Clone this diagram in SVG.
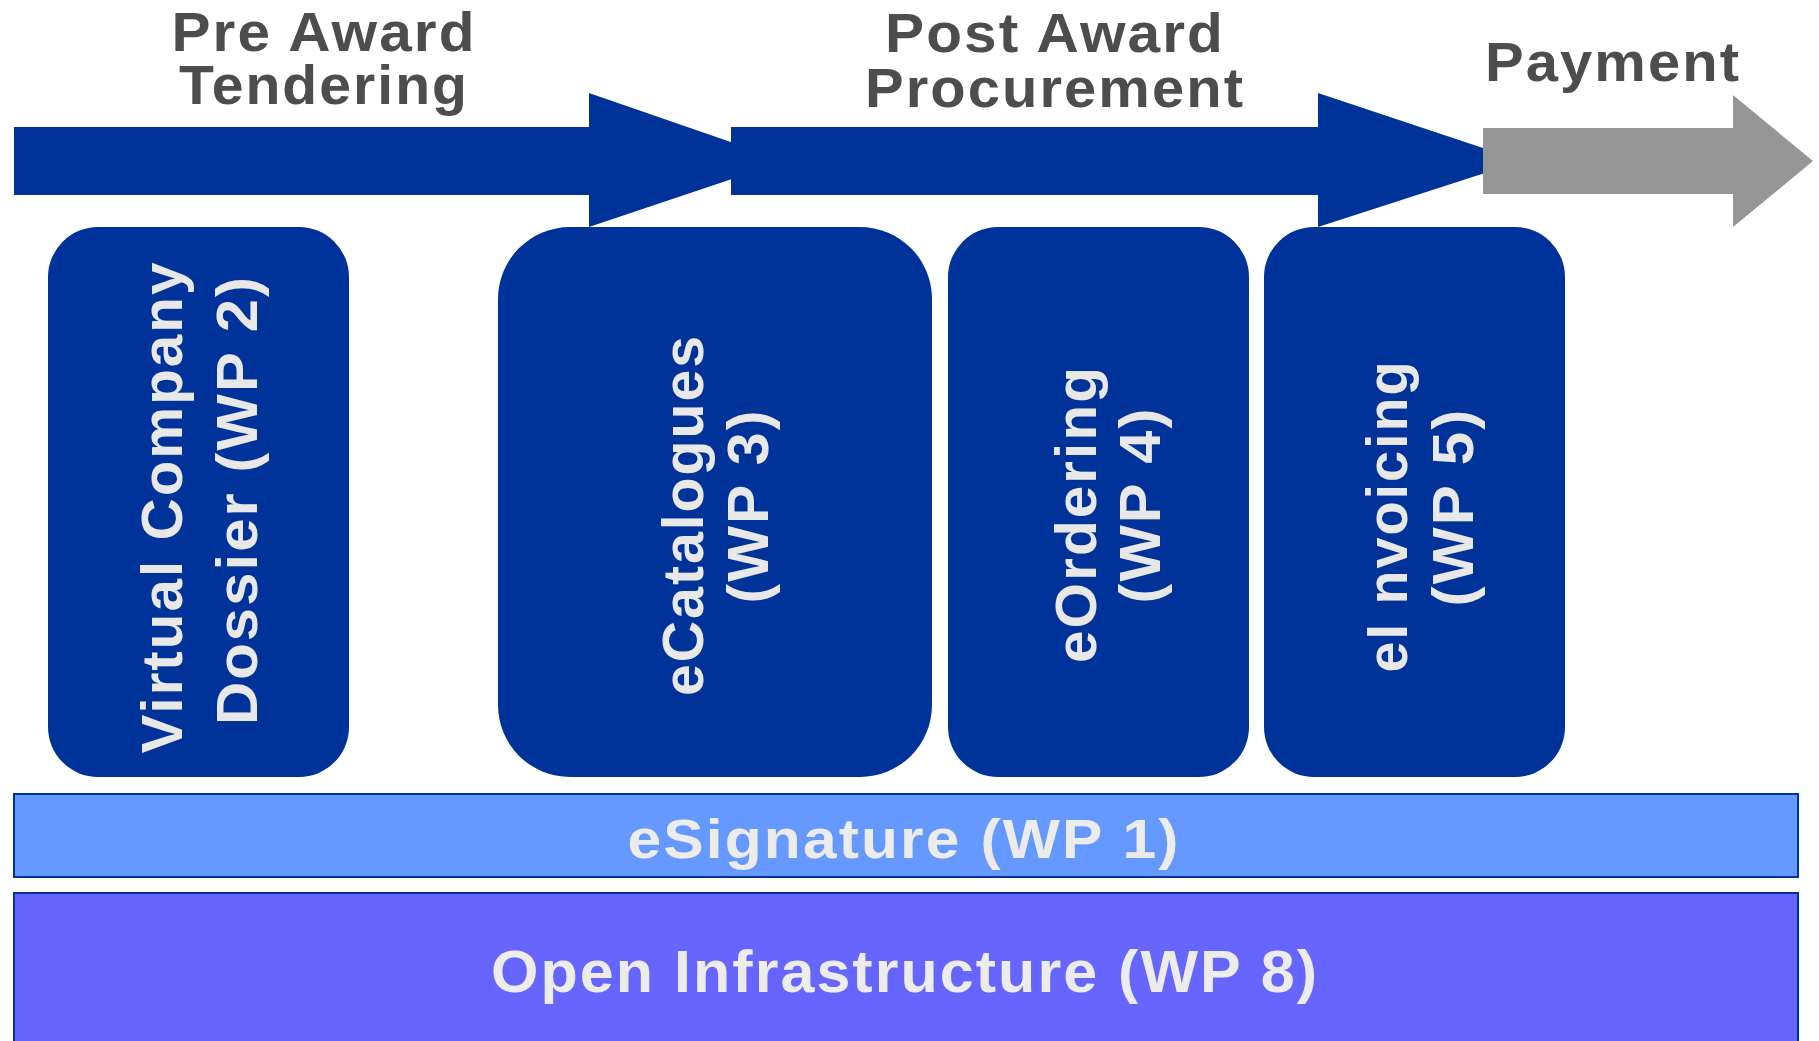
<svg xmlns="http://www.w3.org/2000/svg" width="1819" height="1041" viewBox="0 0 1819 1041">
<style>
.title{font-family:"Liberation Sans",Arial,sans-serif;font-weight:bold;font-size:56px;fill:#4d4d4d;text-anchor:middle;letter-spacing:2px}
.box{fill:#003399}
.btxt{font-family:"Liberation Sans",Arial,sans-serif;font-weight:bold;font-size:57px;fill:#e8e8e8;text-anchor:middle;letter-spacing:2px}
.bar{stroke:#003399;stroke-width:2}
.bartxt{font-family:"Liberation Sans",Arial,sans-serif;font-weight:bold;fill:#ececec;text-anchor:middle;letter-spacing:2px}
</style>
<rect width="1819" height="1041" fill="#ffffff"/>
<g id="connectors">
<polygon fill="#003399" points="14,127 589,127 589,93 786,161 589,227 589,195 14,195"/>
<polygon fill="#003399" points="731,127 1318,127 1318,93 1522,161 1318,227 1318,195 731,195"/>
<polygon fill="#969696" points="1483,128 1733,128 1733,95 1813,161 1733,227 1733,194 1483,194"/>
</g>
<g id="phase-pre">
<text class="title" x="324" y="51" textLength="305" lengthAdjust="spacingAndGlyphs">Pre Award</text>
<text class="title" x="324" y="104" textLength="290" lengthAdjust="spacingAndGlyphs">Tendering</text>
</g>
<g id="phase-post">
<text class="title" x="1055" y="52" textLength="340" lengthAdjust="spacingAndGlyphs">Post Award</text>
<text class="title" x="1055" y="107" textLength="380" lengthAdjust="spacingAndGlyphs">Procurement</text>
</g>
<g id="phase-payment">
<text class="title" x="1613" y="81" textLength="256" lengthAdjust="spacingAndGlyphs">Payment</text>
</g>
<g id="wp2">
<rect class="box" x="48" y="227" width="301" height="550" rx="50" ry="50"/>
<text class="btxt" transform="translate(182,507) rotate(-90)" textLength="493" lengthAdjust="spacingAndGlyphs">Virtual Company</text>
<text class="btxt" transform="translate(257,500) rotate(-90)" textLength="450" lengthAdjust="spacingAndGlyphs">Dossier (WP 2)</text>
</g>
<g id="wp3">
<rect class="box" x="498" y="227" width="434" height="550" rx="72" ry="72"/>
<text class="btxt" transform="translate(703,515) rotate(-90)" textLength="362" lengthAdjust="spacingAndGlyphs">eCatalogues</text>
<text class="btxt" transform="translate(768,506) rotate(-90)" textLength="195" lengthAdjust="spacingAndGlyphs">(WP 3)</text>
</g>
<g id="wp4">
<rect class="box" x="948" y="227" width="301" height="550" rx="50" ry="50"/>
<text class="btxt" transform="translate(1096,514) rotate(-90)" textLength="298" lengthAdjust="spacingAndGlyphs">eOrdering</text>
<text class="btxt" transform="translate(1160,505) rotate(-90)" textLength="197" lengthAdjust="spacingAndGlyphs">(WP 4)</text>
</g>
<g id="wp5">
<rect class="box" x="1264" y="227" width="301" height="550" rx="50" ry="50"/>
<text class="btxt" transform="translate(1407,516) rotate(-90)" textLength="313" lengthAdjust="spacingAndGlyphs">eI nvoicing</text>
<text class="btxt" transform="translate(1473,507) rotate(-90)" textLength="199" lengthAdjust="spacingAndGlyphs">(WP 5)</text>
</g>
<g id="wp1">
<rect class="bar" x="14" y="794" width="1784" height="83" fill="#6699ff"/>
<text class="bartxt" x="904" y="858" font-size="56" textLength="553" lengthAdjust="spacingAndGlyphs">eSignature (WP 1)</text>
</g>
<g id="wp8">
<rect class="bar" x="14" y="893" width="1784" height="160" fill="#6666ff"/>
<text class="bartxt" x="905" y="992" font-size="60" textLength="828" lengthAdjust="spacingAndGlyphs">Open Infrastructure (WP 8)</text>
</g>
</svg>
